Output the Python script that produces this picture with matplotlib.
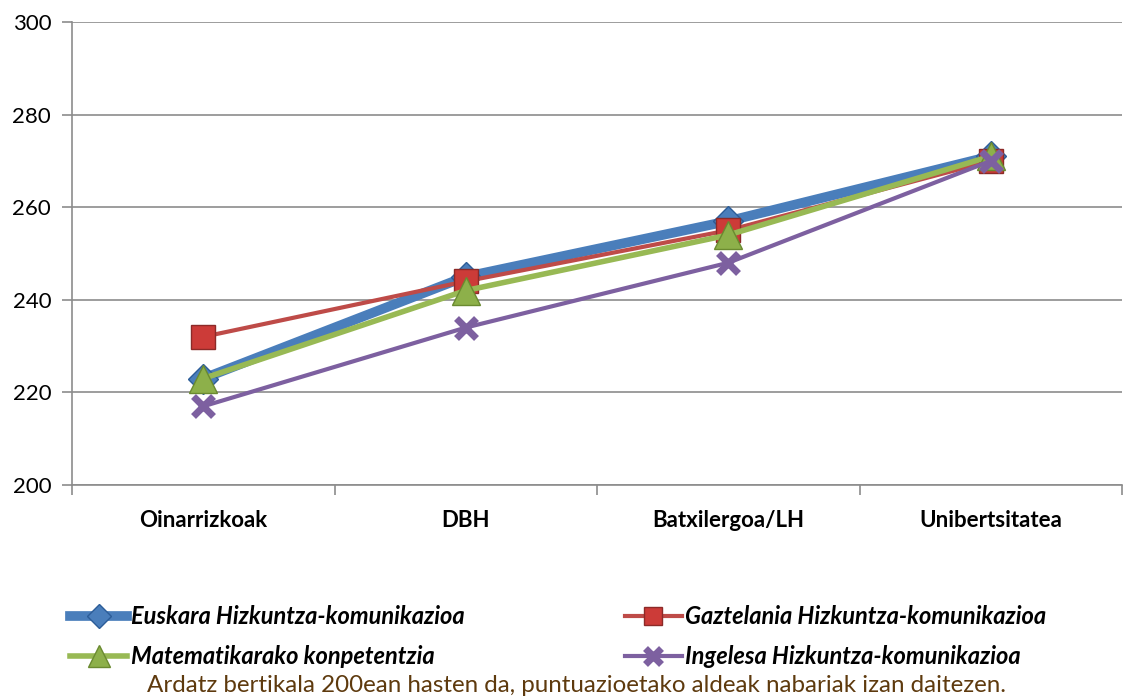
import matplotlib
matplotlib.use("Agg")
import matplotlib.pyplot as plt
import numpy as np

categories = ["Oinarrizkoak", "DBH", "Batxilergoa/LH", "Unibertsitatea"]
euskara = [223, 245, 257, 271]
gaztelania = [232, 244, 255, 270]
matematika = [223, 242, 254, 271]
ingelesa = [217, 234, 248, 270]
series_names = ["Euskara Hizkuntza-komunikazioa", "Gaztelania Hizkuntza-komunikazioa",
                "Matematikarako konpetentzia", "Ingelesa Hizkuntza-komunikazioa"]
yticks = [200, 220, 240, 260, 280, 300]
note = "Ardatz bertikala 200ean hasten da, puntuazioetako aldeak nabariak izan daitezen."

plt.rcParams['font.family'] = ['Lato', 'DejaVu Sans']

fig = plt.figure(figsize=(11.24, 6.97), dpi=100)
ax = fig.add_axes([72/1124, 1-485/697, 1050/1124, (485-22)/697])

x = np.arange(len(categories))
l1, = ax.plot(x, euskara, color="#4a7ebb", lw=7, marker="D", ms=15,
              mfc="#4a7ebb", mec="#2c5d98", zorder=4)
l2, = ax.plot(x, gaztelania, color="#be4b48", lw=3, marker="s", ms=17,
              mfc="#cc3b38", mec="#8c2a28", zorder=5)
l3, = ax.plot(x, matematika, color="#98b954", lw=4, marker="^", ms=20,
              mfc="#8db04a", mec="#6a8a30", zorder=6)
l4, = ax.plot(x, ingelesa, color="#7d60a0", lw=3, marker="x", ms=14, mew=5,
              mec="#7d60a0", zorder=7)

ax.set_xlim(-0.5, len(categories) - 0.5)
ax.set_ylim(200, 300)
ax.set_yticks(yticks)
ax.yaxis.grid(True, color="#8c8c8c", lw=1.2)
ax.set_axisbelow(True)
for s in ["top", "right"]:
    ax.spines[s].set_visible(False)
ax.spines["left"].set_color("#8c8c8c")
ax.spines["bottom"].set_color("#8c8c8c")
ax.spines["left"].set_linewidth(1.2)
ax.spines["bottom"].set_linewidth(1.2)

ax.set_xticks(np.arange(-0.5, len(categories) + 0.5, 1.0))
ax.set_xticklabels([])
ax.set_xticks(x, minor=True)
ax.set_xticklabels(categories, minor=True, fontsize=16, fontweight="bold")
ax.tick_params(axis="x", which="major", length=7, color="#8c8c8c", width=1.2)
ax.tick_params(axis="x", which="minor", length=0, pad=18)
ax.tick_params(axis="y", length=7, color="#8c8c8c", width=1.2, labelsize=16, pad=8)

handles = [l1, l3, l2, l4]
labels = [series_names[0], series_names[2], series_names[1], series_names[3]]
leg = fig.legend(handles, labels, loc="upper left", ncol=2,
                 bbox_to_anchor=(61/1124, 1-596/697), frameon=False,
                 prop={"size": 17, "weight": "bold", "style": "italic"},
                 handlelength=2.4, handletextpad=0.15, columnspacing=6.8,
                 labelspacing=0.72, borderaxespad=0, markerscale=0.8)

fig.text(147/1124, 1-686/697, note, fontsize=17.4, color="#5e3a0e", va="center")

fig.savefig("out.png", dpi=100)
